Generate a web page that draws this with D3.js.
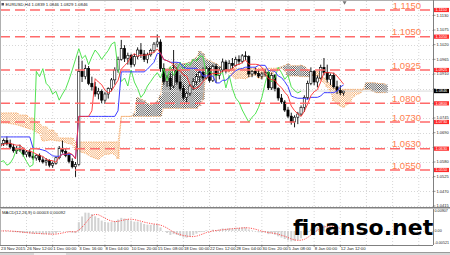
<!DOCTYPE html>
<html>
<head>
<meta charset="utf-8">
<script src="https://cdn.jsdelivr.net/npm/d3@7"></script>
<style>
	body { margin: 0; background: #fff; }
	svg { display: block; font-family: "Liberation Sans", Arial, sans-serif; }
</style>
</head>
<body>
<svg id="chart" width="450" height="255"></svg>
<script>
var title = "EURUSD,H4";

// one candle per 8 hours (two H4 bars), 23 Nov 2015 .. 12 Jan 2016
var opens = [1.0640,1.0650,1.0660,1.0648,1.0636,1.0622,1.0630,1.0625,1.0608,1.0618,
	1.0602,1.0595,1.0605,1.0588,1.0580,1.0585,1.0568,1.0575,1.0596,1.0630,
	1.0620,1.0605,1.0582,1.0562,1.0570,1.0920,1.0900,1.0930,1.0875,1.0862,
	1.0835,1.0845,1.0812,1.0835,1.0855,1.0888,1.0925,1.0965,1.1005,1.0968,
	1.0980,1.0945,1.0975,1.1000,1.0985,1.0965,1.0982,1.0998,1.1022,1.1030,
	1.0930,1.0882,1.0895,1.0865,1.0925,1.0880,1.0855,1.0822,1.0838,1.0865,
	1.0882,1.0900,1.0915,1.0895,1.0930,1.0885,1.0938,1.0905,1.0925,1.0955,
	1.0925,1.0950,1.0942,1.0965,1.0958,1.0978,1.0975,1.0910,1.0920,1.0912,
	1.0902,1.0910,1.0915,1.0858,1.0905,1.0855,1.0820,1.0805,1.0775,1.0752,
	1.0730,1.0748,1.0760,1.0785,1.0822,1.0875,1.0920,1.0880,1.0895,1.0935,
	1.0915,1.0890,1.0905,1.0862,1.0848,1.0839];
var highs = [1.0660,1.0668,1.0676,1.0664,1.0648,1.0640,1.0645,1.0634,1.0625,1.0628,
	1.0615,1.0610,1.0612,1.0600,1.0595,1.0590,1.0582,1.0600,1.0640,1.0660,
	1.0632,1.0614,1.0594,1.0580,1.0978,1.0960,1.0945,1.0940,1.0900,1.0880,
	1.0858,1.0852,1.0842,1.0860,1.0895,1.0935,1.0975,1.1038,1.1018,1.0990,
	1.0986,1.0985,1.1010,1.1026,1.1000,1.0990,1.1005,1.1030,1.1058,1.1040,
	1.0950,1.0905,1.0915,1.1000,1.0935,1.0905,1.0870,1.0845,1.0872,1.0895,
	1.0910,1.0925,1.0935,1.0940,1.0938,1.0945,1.0948,1.0935,1.0968,1.0962,
	1.0962,1.0970,1.0975,1.0980,1.0985,1.0995,1.0980,1.0925,1.0935,1.0925,
	1.0918,1.0928,1.0920,1.0915,1.0910,1.0860,1.0835,1.0812,1.0786,1.0765,
	1.0755,1.0768,1.0792,1.0830,1.0885,1.0935,1.0925,1.0905,1.0945,1.0970,
	1.0945,1.0912,1.0915,1.0885,1.0868,1.0846];
var lows = [1.0625,1.0640,1.0642,1.0628,1.0615,1.0610,1.0618,1.0600,1.0598,1.0596,
	1.0588,1.0585,1.0580,1.0574,1.0566,1.0560,1.0558,1.0570,1.0590,1.0612,
	1.0598,1.0575,1.0556,1.0524,1.0566,1.0880,1.0890,1.0868,1.0848,1.0825,
	1.0815,1.0800,1.0798,1.0818,1.0845,1.0870,1.0915,1.0960,1.0955,1.0945,
	1.0935,1.0938,1.0965,1.0970,1.0955,1.0950,1.0975,1.0990,1.1010,1.0918,
	1.0870,1.0862,1.0850,1.0858,1.0870,1.0845,1.0812,1.0805,1.0828,1.0850,
	1.0870,1.0880,1.0885,1.0890,1.0878,1.0880,1.0876,1.0890,1.0915,1.0912,
	1.0920,1.0930,1.0938,1.0945,1.0950,1.0962,1.0898,1.0898,1.0905,1.0895,
	1.0890,1.0900,1.0850,1.0850,1.0845,1.0810,1.0798,1.0768,1.0745,1.0720,
	1.0710,1.0722,1.0752,1.0768,1.0815,1.0868,1.0868,1.0860,1.0890,1.0905,
	1.0878,1.0868,1.0855,1.0835,1.0830,1.0829];
var closes = [1.0650,1.0660,1.0648,1.0636,1.0622,1.0630,1.0625,1.0608,1.0618,1.0602,
	1.0595,1.0605,1.0588,1.0580,1.0585,1.0568,1.0575,1.0596,1.0630,1.0620,
	1.0605,1.0582,1.0562,1.0570,1.0920,1.0900,1.0930,1.0875,1.0862,1.0835,
	1.0845,1.0812,1.0835,1.0855,1.0888,1.0925,1.0965,1.1005,1.0968,1.0980,
	1.0945,1.0975,1.1000,1.0985,1.0965,1.0982,1.0998,1.1022,1.1030,1.0930,
	1.0882,1.0895,1.0865,1.0925,1.0880,1.0855,1.0822,1.0838,1.0865,1.0882,
	1.0900,1.0915,1.0895,1.0930,1.0885,1.0938,1.0905,1.0925,1.0955,1.0925,
	1.0950,1.0942,1.0965,1.0958,1.0978,1.0975,1.0910,1.0920,1.0912,1.0902,
	1.0910,1.0915,1.0858,1.0905,1.0855,1.0820,1.0805,1.0775,1.0752,1.0730,
	1.0748,1.0760,1.0785,1.0822,1.0875,1.0920,1.0880,1.0895,1.0935,1.0915,
	1.0890,1.0905,1.0862,1.0848,1.0839,1.0846];

// ichimoku values whose window starts before the first visible candle
var kijunLead = [1.0674,1.0674,1.0674,1.0674,1.0674,1.0674,1.0674,1.0674,1.0674,1.0674];
var senkouALead = [1.0726,1.0726,1.0726,1.0724,1.0722,1.0720,1.0716,1.0712,1.0708,1.0704,1.0700,1.0693,1.0686];
var senkouBLead = [1.0764,1.0764,1.0764,1.0764,1.0764,1.0764,1.0756,1.0756,1.0756,1.0745,
	1.0745,1.0730,1.0722,1.0712,1.0712,1.0700,1.0700,1.0688,1.0670,1.0670,
	1.0670,1.0670,1.0670,1.0655,1.0655,1.0655,1.0655,1.0655,1.0655,1.0655,
	1.0655,1.0655,1.0655,1.0655,1.0655,1.0655,1.0655];

var firstDate = "23 Nov 2015";
var timeLabels = ["26 Nov 12:00","1 Dec 00:00","3 Dec 16:00","8 Dec 04:00","10 Dec 20:00","15 Dec 08:00",
	"18 Dec 00:00","22 Dec 12:00","28 Dec 04:00","30 Dec 20:00","5 Jan 08:00","8 Jan 00:00","12 Jan 12:00"];
var timeLabelBars = [8,16,24,32,40,48,56,64,72,80,88,96,104];

var priceTicks = [1.1130,1.1075,1.1020,1.0965,1.0910,1.0855,1.0800,1.0745,1.0690,1.0635,1.0580,1.0525,1.0470,1.0415];
var levels = [1.1150,1.1050,1.0925,1.0800,1.0730,1.0630,1.0550];
var macdTicks = [0.00907,0,-0.00521];
var macdTickLabels = ["0.00907","0.00","-0.00521"];
var macdTitle = "MACD(12,26,9) 0.00003 0.00092";
var watermark = "finanso.net";

// ---------------------------------------------------------------- indicators
// periods are halved because each candle holds two H4 bars
var shift = 13;

var midpoint = function(from, to) {
	from = Math.max(0, from);
	return (d3.max(highs.slice(from, to + 1)) + d3.min(lows.slice(from, to + 1))) / 2;
};
var ema = function(values, period) {
	var k = 2 / (period + 1), prev = values[0];
	return values.map(function(v, i) {
		prev = i == 0 ? v : prev + k * (v - prev);
		return prev;
	});
};

var bars = d3.range(closes.length);
var tenkan = bars.map(function(i) { return midpoint(i - 4, i); });
var kijun = bars.map(function(i) { return i < kijunLead.length ? kijunLead[i] : midpoint(i - 12, i); });
var cloud = d3.range(closes.length + shift).map(function(i) {
	return {
		bar: i,
		a: i < senkouALead.length ? senkouALead[i] : (tenkan[i - shift] + kijun[i - shift]) / 2,
		b: i < senkouBLead.length ? senkouBLead[i] : midpoint(i - shift - 25, i - shift)
	};
});
var chikou = d3.range(closes.length - shift).map(function(i) { return closes[i + shift]; });

var fast = ema(closes, 6), slow = ema(closes, 13);
var macd = bars.map(function(i) { return fast[i] - slow[i]; });
var signal = bars.map(function(i) { return d3.mean(macd.slice(Math.max(0, i - 4), i + 1)); });

// ---------------------------------------------------------------- layout
var svg = d3.select("#chart");
var right = 433, mainTop = 1, mainBottom = 207, macdTop = 209, macdBottom = 245;

var x = d3.scaleLinear().domain([0, 8]).range([0.35, 26.5]);
var y = d3.scaleLinear().domain([1.1150, 1.0415]).range([10, 206]);
var ym = d3.scaleLinear().domain([macdTicks[2], macdTicks[0]]).range([242.5, 211]);
var last = closes.length - 1;

var defs = svg.append("defs");
defs.append("clipPath").attr("id", "clipMain").append("rect")
	.attr("x", 0).attr("y", mainTop).attr("width", right).attr("height", mainBottom - mainTop);
defs.append("clipPath").attr("id", "clipMacd").append("rect")
	.attr("x", 0).attr("y", macdTop).attr("width", right).attr("height", macdBottom - macdTop);

// grid
var grid = svg.append("g").attr("stroke", "#c6c6c6").attr("stroke-width", 0.7).attr("stroke-dasharray", "1,2");
grid.selectAll("line.h").data(priceTicks).enter().append("line")
	.attr("x1", 0).attr("x2", right)
	.attr("y1", function(d) { return Math.round(y(d)) + 0.5; })
	.attr("y2", function(d) { return Math.round(y(d)) + 0.5; });
grid.append("line").attr("x1", 0).attr("x2", right)
	.attr("y1", Math.round(ym(0)) + 0.5).attr("y2", Math.round(ym(0)) + 0.5);
grid.selectAll("line.v").data(d3.range(8, 129, 8)).enter().append("line")
	.attr("x1", function(d) { return x(d); }).attr("x2", function(d) { return x(d); })
	.attr("y1", mainTop).attr("y2", macdBottom);

var main = svg.append("g").attr("clip-path", "url(#clipMain)");

// kumo, hatched with dotted verticals like the terminal draws it;
// neighbouring verticals get shifted dots so the hatch reads as a dot texture
var kumo = main.append("g").attr("stroke-width", 0.85).attr("stroke-dasharray", "1,1");
[-0.33, 0, 0.33].forEach(function(off, k) {
	kumo.append("g").selectAll("line").data(cloud).enter().append("line")
		.attr("x1", function(d) { return x(d.bar + off); })
		.attr("x2", function(d) { return x(d.bar + off); })
		.attr("y1", function(d) { return y(Math.max(d.a, d.b)); })
		.attr("y2", function(d) { return y(Math.min(d.a, d.b)); })
		.attr("stroke-dashoffset", function(d) { return (y(Math.max(d.a, d.b)) + (d.bar * 3 + k) % 2) % 2; })
		.attr("stroke", function(d) { return d.a >= d.b ? "#333" : "#f3a35c"; });
});
["a", "b"].forEach(function(key) {
	main.append("path").datum(cloud)
		.attr("fill", "none").attr("stroke", "#f4a460").attr("stroke-width", 0.8).attr("stroke-dasharray", "1.5,1")
		.attr("d", d3.line().x(function(d) { return x(d.bar); }).y(function(d) { return y(d[key]); }));
});

// bid line
main.append("line").attr("x1", 0).attr("x2", right)
	.attr("y1", y(closes[last])).attr("y2", y(closes[last]))
	.attr("stroke", "#cfcfcf").attr("stroke-width", 0.8);

// candles
var candle = main.append("g").selectAll("g").data(bars).enter().append("g");
candle.append("line")
	.attr("x1", function(i) { return x(i); }).attr("x2", function(i) { return x(i); })
	.attr("y1", function(i) { return y(highs[i]); }).attr("y2", function(i) { return y(lows[i]); })
	.attr("stroke", "#000").attr("stroke-width", 0.9);
candle.append("rect")
	.attr("x", function(i) { return x(i) - 1.1; })
	.attr("width", 2.2)
	.attr("y", function(i) { return y(Math.max(opens[i], closes[i])); })
	.attr("height", function(i) { return Math.max(0.6, Math.abs(y(opens[i]) - y(closes[i]))); })
	.attr("fill", function(i) { return closes[i] >= opens[i] ? "#fff" : "#000"; })
	.attr("stroke", "#000").attr("stroke-width", 0.6);

// tenkan, kijun, chikou
var line = function(values, color, width) {
	main.append("path").datum(values)
		.attr("fill", "none").attr("stroke", color).attr("stroke-width", width)
		.attr("d", d3.line().x(function(d, i) { return x(i); }).y(function(d) { return y(d); }));
};
line(chikou, "#3fe03f", 0.9);
line(kijun, "#3c3cff", 1);
line(tenkan, "#ff2f2f", 0.9);

// horizontal levels
var lv = svg.append("g");
lv.selectAll("line").data(levels).enter().append("line")
	.attr("x1", 0).attr("x2", right)
	.attr("y1", function(d) { return y(d); }).attr("y2", function(d) { return y(d); })
	.attr("stroke", "#ff6a6a").attr("stroke-width", 1.5).attr("stroke-dasharray", "10,5");
lv.selectAll("text").data(levels).enter().append("text")
	.attr("x", 421).attr("y", function(d) { return y(d) - 1.5; })
	.attr("text-anchor", "end").attr("font-size", 9.5).attr("fill", "#ff7f50")
	.text(function(d) { return d.toFixed(4); });

// MACD window
var sub = svg.append("g").attr("clip-path", "url(#clipMacd)");
sub.selectAll("rect").data(bars).enter().append("rect")
	.attr("x", function(i) { return x(i) - 1; })
	.attr("width", 2)
	.attr("y", function(i) { return Math.min(ym(0), ym(macd[i])); })
	.attr("height", function(i) { return Math.abs(ym(macd[i]) - ym(0)); })
	.attr("fill", "#d2d2d2");
sub.append("path").datum(signal)
	.attr("fill", "none").attr("stroke", "#ff3c3c").attr("stroke-width", 0.9).attr("stroke-dasharray", "1.2,1.2")
	.attr("d", d3.line().x(function(d, i) { return x(i); }).y(function(d) { return ym(d); }));

// frame
var frame = svg.append("g").attr("fill", "none");
frame.append("line").attr("x1", 0).attr("x2", 450).attr("y1", 0.5).attr("y2", 0.5).attr("stroke", "#b0b0b0");
frame.append("line").attr("x1", 0.5).attr("x2", 0.5).attr("y1", 0).attr("y2", macdBottom).attr("stroke", "#b0b0b0");
frame.append("line").attr("x1", right + 0.5).attr("x2", right + 0.5).attr("y1", 0).attr("y2", macdBottom).attr("stroke", "#808080");
frame.append("line").attr("x1", 0).attr("x2", 450).attr("y1", 207.5).attr("y2", 207.5).attr("stroke", "#808080");
frame.append("line").attr("x1", 0).attr("x2", 450).attr("y1", 208.5).attr("y2", 208.5).attr("stroke", "#c0c0c0");
frame.append("line").attr("x1", 0).attr("x2", right).attr("y1", macdBottom + 0.5).attr("y2", macdBottom + 0.5).attr("stroke", "#808080");
svg.append("rect").attr("x", 0).attr("y", 252).attr("width", 450).attr("height", 3).attr("fill", "#d6d6d6");
svg.append("line").attr("x1", 0).attr("x2", 450).attr("y1", 252.5).attr("y2", 252.5).attr("stroke", "#9a9a9a");
svg.append("rect").attr("x", 34).attr("y", 253).attr("width", 32).attr("height", 2).attr("fill", "#f2f2f2");

// price axis; labels hidden behind a price tag are left out, as on the terminal
var tagged = levels.concat([closes[last]]);
var freeTicks = priceTicks.filter(function(t) {
	return !tagged.some(function(v) { return Math.abs(y(v) - y(t)) < 3; });
});
var axis = svg.append("g").attr("font-size", 4).attr("fill", "#222");
axis.selectAll("line").data(priceTicks).enter().append("line")
	.attr("x1", right).attr("x2", right + 2.5)
	.attr("y1", function(d) { return y(d); }).attr("y2", function(d) { return y(d); })
	.attr("stroke", "#555").attr("stroke-width", 0.6);
axis.selectAll("text.p").data(freeTicks).enter().append("text")
	.attr("x", 436.5).attr("y", function(d) { return y(d) + 1.2; })
	.text(function(d) { return d.toFixed(4); });
axis.selectAll("text.m").data(macdTicks).enter().append("text")
	.attr("x", 434.5).attr("y", function(d) { return ym(d) + 1.3; })
	.attr("font-size", 3.7)
	.text(function(d, i) { return macdTickLabels[i]; });

var tags = svg.append("g").attr("font-size", 3.8).attr("fill", "#fff");
var tag = function(value, color) {
	tags.append("rect").attr("x", 434).attr("y", y(value) - 2.1).attr("width", 15).attr("height", 4.2).attr("fill", color);
	tags.append("text").attr("x", 435.5).attr("y", y(value) + 1.3).text(value.toFixed(4));
};
levels.forEach(function(d) { tag(d, "#ff2b2b"); });
tag(closes[last], "#000");

// time axis
var times = svg.append("g").attr("font-size", 4.3).attr("fill", "#222");
times.append("text").attr("x", 1).attr("y", 249.5).text(firstDate);
times.selectAll("text.t").data(timeLabelBars).enter().append("text")
	.attr("x", function(d) { return x(d) + 0.5; }).attr("y", 249.5)
	.text(function(d, i) { return timeLabels[i]; });
times.selectAll("line").data(timeLabelBars).enter().append("line")
	.attr("x1", function(d) { return x(d); }).attr("x2", function(d) { return x(d); })
	.attr("y1", macdBottom).attr("y2", macdBottom + 2)
	.attr("stroke", "#555").attr("stroke-width", 0.6);

// captions
svg.append("rect").attr("x", 1.5).attr("y", 3).attr("width", 2.5).attr("height", 2.5).attr("fill", "#556");
svg.append("text").attr("x", 5.5).attr("y", 6.3).attr("font-size", 4.3).attr("fill", "#222")
	.text(title + "  " + [opens[last], highs[last], lows[last], closes[last]].map(function(d) { return d.toFixed(4); }).join(" "));
svg.append("text").attr("x", 2).attr("y", 213.8).attr("font-size", 4.3).attr("fill", "#222").text(macdTitle);
svg.append("path").attr("d", d3.symbol(d3.symbolTriangle, 7)())
	.attr("transform", "translate(" + (x(last) + 1) + ",2.5) rotate(180)").attr("fill", "#777");

svg.append("text").attr("x", 293).attr("y", 235)
	.attr("font-family", "DejaVu Sans").attr("font-weight", "bold").attr("font-size", 22).attr("fill", "#000")
	.text(watermark);
</script>
</body>
</html>
